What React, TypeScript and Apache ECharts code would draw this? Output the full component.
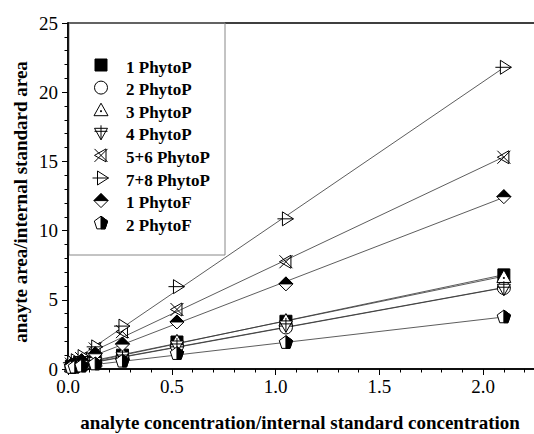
import { useEffect, useRef } from "react";
import * as echarts from "echarts";

// ---- data ----
const xValues = [0.0164, 0.0328, 0.0656, 0.131, 0.2625, 0.525, 1.05, 2.1];
const seriesNames = ["1 PhytoP", "2 PhytoP", "3 PhytoP", "4 PhytoP", "5+6 PhytoP", "7+8 PhytoP", "1 PhytoF", "2 PhytoF"];
const phytoP1 = [0.2, 0.25, 0.35, 0.55, 1.0, 1.95, 3.45, 6.8];
const phytoP2 = [0.15, 0.2, 0.3, 0.5, 0.85, 1.65, 3.0, 5.85];
const phytoP3 = [0.2, 0.3, 0.4, 0.6, 1.1, 2.0, 3.5, 6.65];
const phytoP4 = [0.15, 0.2, 0.3, 0.5, 0.9, 1.7, 3.15, 5.8];
const phytoP56 = [0.35, 0.5, 0.75, 1.45, 2.7, 4.3, 7.75, 15.3];
const phytoP78 = [0.45, 0.6, 0.9, 1.6, 3.1, 5.95, 10.85, 21.8];
const phytoF1 = [0.3, 0.4, 0.6, 1.1, 1.8, 3.4, 6.15, 12.45];
const phytoF2 = [0.1, 0.12, 0.2, 0.35, 0.55, 1.1, 1.9, 3.75];
const seriesValues = [phytoP1, phytoP2, phytoP3, phytoP4, phytoP56, phytoP78, phytoF1, phytoF2];
const symbolKeys = ["square", "circle", "triUp", "triDownPlus", "xTri", "triRightPlus", "diamondTop", "pentRight"];
const xTickInterval = 0.5;
const yTickInterval = 5;

// ---- symbol drawings (pixel units, centred on 0,0) ----
const SYMBOLS: Record<string, { d: string; fill: string }[]> = {
  square: [{ d: "M-6 -6L6 -6L6 6L-6 6Z", fill: "#000" }],
  circle: [{ d: "M-6.5 0A6.5 6.5 0 1 0 6.5 0A6.5 6.5 0 1 0 -6.5 0Z", fill: "#fff" }],
  triUp: [
    { d: "M0 -7L7 5.5L-7 5.5Z", fill: "#fff" },
    { d: "M-0.5 0.5L0.5 0.5L0.5 1.5L-0.5 1.5Z", fill: "#000" },
  ],
  triDownPlus: [
    { d: "M-6.5 -4.5L6.5 -4.5L0 7Z", fill: "#fff" },
    { d: "M0 -7.5L0 7M-6.5 -1.5L6.5 -1.5", fill: "none" },
  ],
  xTri: [{ d: "M-6.5 -6.5L6.5 6.5M-6.5 6.5L6.5 -6.5M5 -6.5L-6.5 0L5 6.5Z", fill: "none" }],
  triRightPlus: [
    { d: "M-3.5 -7L7.5 0L-3.5 7Z", fill: "#fff" },
    { d: "M-8.5 0L7.5 0", fill: "none" },
  ],
  diamondTop: [
    { d: "M0 -7L7 0L0 7L-7 0Z", fill: "#fff" },
    { d: "M0 -7L7 0L-7 0Z", fill: "#000" },
  ],
  pentRight: [
    { d: "M0 -7L6.66 -2.16L4.11 5.66L-4.11 5.66L-6.66 -2.16Z", fill: "#fff" },
    { d: "M0 -7L6.66 -2.16L4.11 5.66L0 5.66Z", fill: "#000" },
  ],
};

let registered = false;
function registerSymbols() {
  if (registered) return;
  registered = true;
  Object.keys(SYMBOLS).forEach((k) => {
    SYMBOLS[k].forEach((p, i) => {
      echarts.graphic.registerShape(`sym_${k}_${i}`, echarts.graphic.extendPath(p.d, {}) as any);
    });
  });
}

function fit(xs: number[], ys: number[]) {
  const n = xs.length;
  const mx = xs.reduce((a, b) => a + b, 0) / n;
  const my = ys.reduce((a, b) => a + b, 0) / n;
  let sxy = 0;
  let sxx = 0;
  for (let i = 0; i < n; i++) {
    sxy += (xs[i] - mx) * (ys[i] - my);
    sxx += (xs[i] - mx) * (xs[i] - mx);
  }
  const slope = sxy / sxx;
  return { slope, intercept: my - slope * mx };
}

const FONT = "'Liberation Serif', 'Times New Roman', serif";

export default function App() {
  const ref = useRef<HTMLDivElement>(null);
  useEffect(() => {
    if (!ref.current) return;
    registerSymbols();
    const chart = echarts.init(ref.current, undefined, { renderer: "svg" });

    const lineSeries = seriesValues.map((ys, i) => {
      const f = fit(xValues, ys);
      const xEnd = xValues[xValues.length - 1];
      return {
        type: "line",
        name: seriesNames[i] + " fit",
        data: [
          [0, f.intercept],
          [xEnd, f.intercept + f.slope * xEnd],
        ],
        symbol: "none",
        silent: true,
        z: 1,
        lineStyle: { color: "#333", width: 0.8 },
      };
    });

    const markerSeries = seriesValues.map((ys, i) => {
      const parts = SYMBOLS[symbolKeys[i]];
      return {
        type: "custom",
        name: seriesNames[i],
        z: 2 + i,
        clip: false,
        data: xValues.map((x, j) => [x, ys[j]]),
        renderItem: (_params: any, api: any) => {
          const pt = api.coord([api.value(0), api.value(1)]);
          return {
            type: "group",
            x: pt[0],
            y: pt[1],
            children: parts.map((p) => ({
              type: "path",
              shape: { pathData: p.d },
              style: { fill: p.fill, stroke: "#000", lineWidth: 1 },
            })),
          };
        },
      };
    });

    const legendRowY0 = 65;
    const legendRowStep = 22.6;
    const legendChildren: any[] = [
      {
        type: "rect",
        shape: { x: 69, y: 23, width: 156, height: 232 },
        style: { fill: "none", stroke: "#888", lineWidth: 1 },
      },
    ];
    seriesNames.forEach((name, i) => {
      const y = legendRowY0 + i * legendRowStep;
      const key = symbolKeys[i];
      SYMBOLS[key].forEach((p, k) => {
        legendChildren.push({
          type: `sym_${key}_${k}`,
          x: 101,
          y,
          style: { fill: p.fill, stroke: "#000", lineWidth: 1 },
        });
      });
      legendChildren.push({
        type: "text",
        x: 126,
        y: y + 2,
        style: {
          text: name,
          font: `bold 17px ${FONT}`,
          fill: "#000",
          align: "left",
          verticalAlign: "middle",
        },
      });
    });

    const option: any = {
      animation: false,
      backgroundColor: "#fff",
      grid: {
        left: 68,
        top: 23,
        width: 467,
        height: 346,
        show: true,
        borderColor: "#000",
        borderWidth: 1.5,
        backgroundColor: "transparent",
        containLabel: false,
        outerBoundsMode: "none",
      },
      xAxis: {
        type: "value",
        min: 0,
        max: 2.25,
        interval: xTickInterval,
        axisLine: { show: true, onZero: false, lineStyle: { color: "#000", width: 1.5 } },
        axisTick: { show: true, inside: false, length: 6, lineStyle: { color: "#000", width: 1 } },
        minorTick: { show: true, splitNumber: 5, length: 3.5, lineStyle: { color: "#000", width: 1 } },
        splitLine: { show: false },
        minorSplitLine: { show: false },
        axisLabel: {
          color: "#000",
          fontFamily: FONT,
          fontSize: 19,
          margin: 8,
          formatter: (v: number) =>
            Math.abs(v / xTickInterval - Math.round(v / xTickInterval)) < 1e-6 ? v.toFixed(1) : "",
        },
      },
      yAxis: {
        type: "value",
        min: 0,
        max: 25,
        interval: yTickInterval,
        axisLine: { show: true, onZero: false, lineStyle: { color: "#000", width: 1.5 } },
        axisTick: { show: true, inside: false, length: 6, lineStyle: { color: "#000", width: 1 } },
        minorTick: { show: true, splitNumber: 5, length: 3.5, lineStyle: { color: "#000", width: 1 } },
        splitLine: { show: false },
        minorSplitLine: { show: false },
        axisLabel: { color: "#000", fontFamily: FONT, fontSize: 19, margin: 10 },
      },
      graphic: [
        ...legendChildren,
        {
          type: "text",
          x: 20,
          y: 202,
          rotation: Math.PI / 2,
          style: {
            text: "anayte area/internal standard area",
            font: `bold 19px ${FONT}`,
            fill: "#000",
            align: "center",
            verticalAlign: "middle",
          },
        },
        {
          type: "text",
          x: 300,
          y: 422,
          style: {
            text: "analyte concentration/internal standard concentration",
            font: `bold 19px ${FONT}`,
            fill: "#000",
            align: "center",
            verticalAlign: "middle",
          },
        },
      ],
      series: [...lineSeries, ...markerSeries],
    };
    chart.setOption(option);
    return () => chart.dispose();
  }, []);
  return (
    <div
      ref={ref}
      style={{ position: "absolute", left: 0, top: 0, width: 534, height: 434 }}
    />
  );
}
